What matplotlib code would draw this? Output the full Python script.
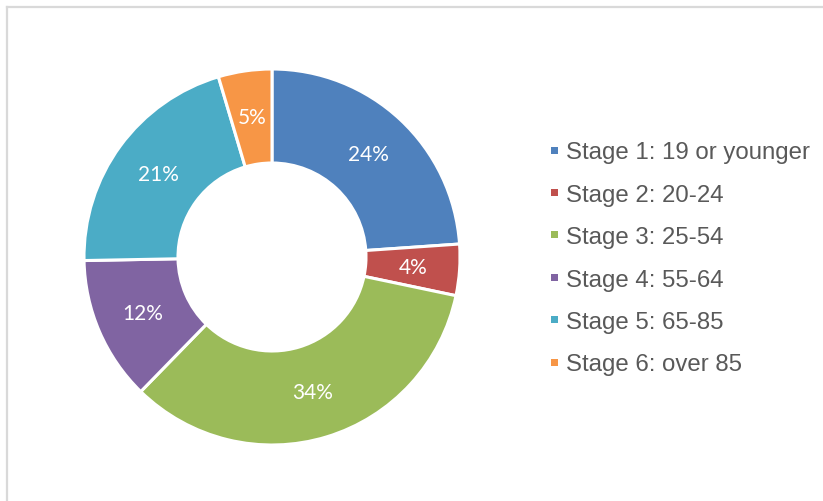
import matplotlib
matplotlib.use("Agg")
import matplotlib.pyplot as plt
from matplotlib.lines import Line2D
from matplotlib.patches import Rectangle

# Share of population by life stage (%)
LABELS = [
    "Stage 1: 19 or younger",
    "Stage 2: 20-24",
    "Stage 3: 25-54",
    "Stage 4: 55-64",
    "Stage 5: 65-85",
    "Stage 6: over 85",
]
SHARES = [23.9, 4.4, 34.0, 12.4, 20.7, 4.6]
COLORS = ["#4F81BD", "#C0504D", "#9BBB59", "#8064A2", "#4BACC6", "#F79646"]


def main() -> None:
    fig = plt.figure(figsize=(8.23, 5.02), dpi=100)
    fig.patch.set_facecolor("white")

    # chart frame (only top and left edges are visible in the crop)
    frame_kw = dict(color="#D9D9D9", linewidth=1.6, transform=fig.transFigure)
    fig.add_artist(Line2D([6.5 / 823, 1.0], [1 - 7.5 / 502, 1 - 7.5 / 502], **frame_kw))
    fig.add_artist(Line2D([6.5 / 823, 6.5 / 823], [0.0, 1 - 7.5 / 502], **frame_kw))

    ax = fig.add_axes([84 / 823, 56 / 502, 376 / 823, 376 / 502])
    ax.pie(
        SHARES,
        colors=COLORS,
        startangle=90,
        counterclock=False,
        radius=1.0,
        autopct=lambda p: f"{p:.0f}%",
        pctdistance=0.75,
        wedgeprops=dict(width=0.5, edgecolor="white", linewidth=2.2),
        textprops=dict(color="white", fontsize=15, fontfamily="Lato"),
    )
    ax.set_xlim(-1, 1)
    ax.set_ylim(-1, 1)
    ax.set_aspect("equal")
    ax.axis("off")

    # hand-placed legend to match Excel's layout
    y0 = 151
    step = 42.4
    for i, (lab, col) in enumerate(zip(LABELS, COLORS)):
        y = 1 - (y0 + i * step) / 502
        fig.add_artist(
            Rectangle(
                (550.5 / 823, y - 3.5 / 502),
                7 / 823,
                7 / 502,
                transform=fig.transFigure,
                facecolor=col,
                edgecolor="none",
            )
        )
        fig.text(
            566 / 823,
            y,
            lab,
            ha="left",
            va="center_baseline",
            fontsize=17.3,
            color="#595959",
            fontfamily="Liberation Sans",
        )

    fig.savefig("out.png", dpi=100, facecolor="white")


if __name__ == "__main__":
    main()
